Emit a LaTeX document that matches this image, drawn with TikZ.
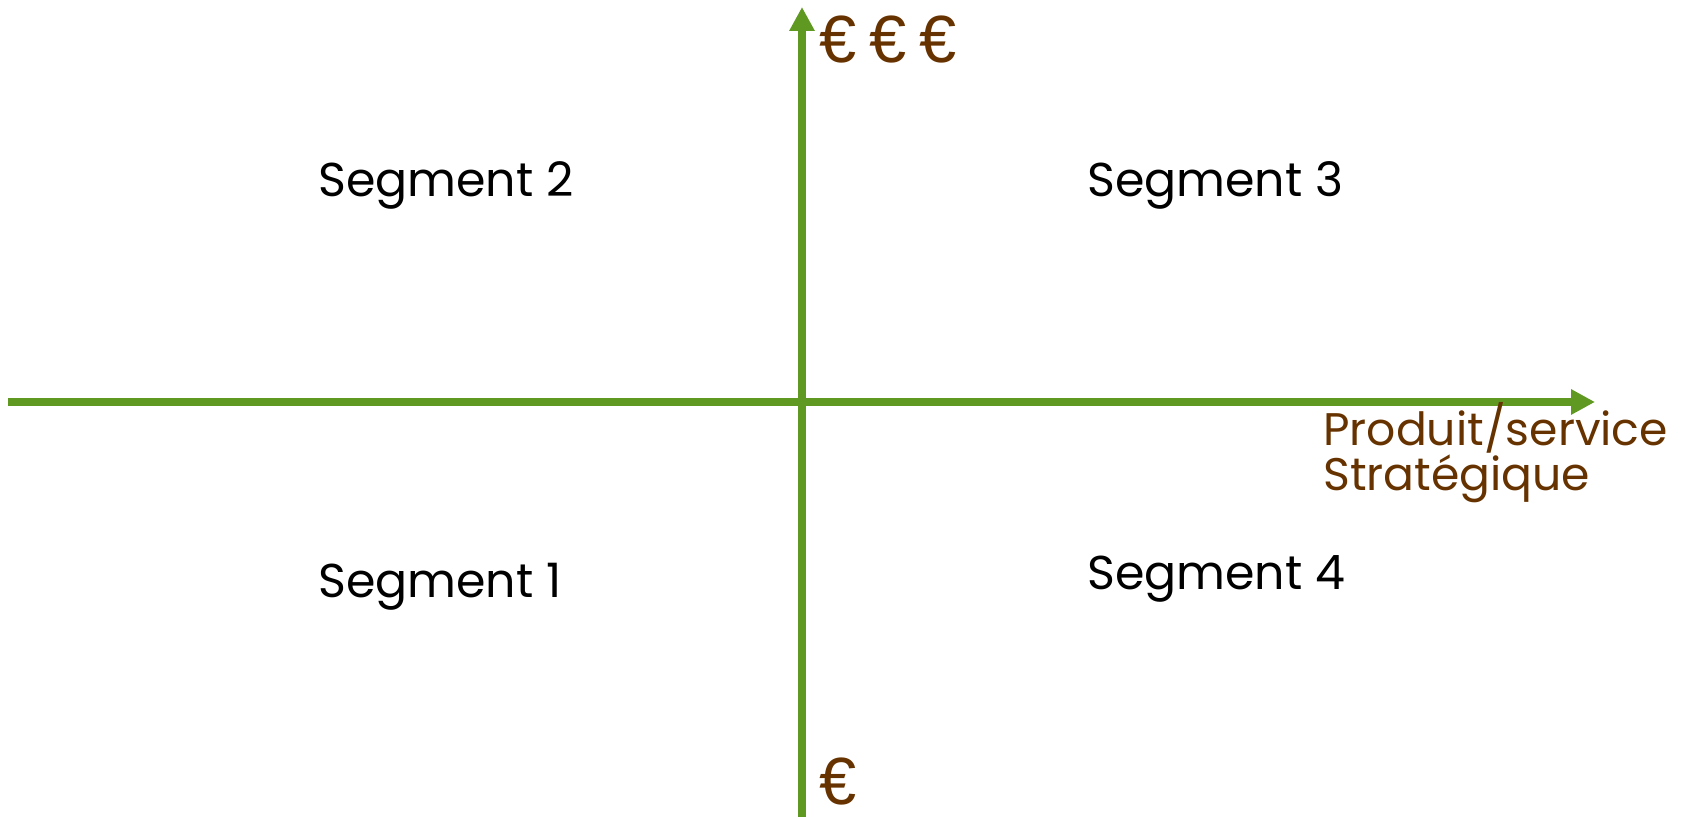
\documentclass[tikz,border=0pt]{standalone}
\usepackage{fontspec}
\setmainfont{Poppins}
\newfontfamily\eurofont{Liberation Sans}[WordSpace=0.7]
\usetikzlibrary{arrows.meta}
\definecolor{axisgreen}{RGB}{96,153,34}
\definecolor{labelbrown}{RGB}{102,51,0}
\tikzset{
  axis/.style={line width=0.16cm, color=axisgreen, -{Triangle[length=0.48cm,width=0.48cm]}},
  segment/.style={anchor=base west, inner sep=0pt, font=\fontsize{27}{32}\selectfont},
  euro/.style={anchor=base west, inner sep=0pt, text=labelbrown, font=\eurofont\fontsize{38}{44}\selectfont},
  axislabel/.style={anchor=north west, inner sep=0pt, text=labelbrown, align=left,
    font=\fontsize{26}{23}\selectfont}
}
\begin{document}
\begin{tikzpicture}
  \useasboundingbox (0,0) rectangle (33.76,16.34);
  % axes
  \coordinate (xstart) at (0.16,8.30);
  \coordinate (xend) at (31.90,8.30);
  \coordinate (ybot) at (16.04,0);
  \coordinate (ytop) at (16.04,16.20);
  \draw[axis] (xstart) -- (xend);
  \draw[axis] (ybot) -- (ytop);
  % quadrants
  \node[segment] (seg2) at (6.36,12.40) {Segment 2};
  \node[segment] (seg3) at (21.74,12.40) {Segment 3};
  \node[segment] (seg1) at (6.36,4.38) {Segment 1};
  \node[segment] (seg4) at (21.74,4.54) {Segment 4};
  % axis labels
  \node[euro] (high) at (16.38,15.08) {€ € €};
  \node[euro] (low) at (16.38,0.24) {€};
  \node[axislabel] (prod) at (26.46,8.30) {Produit/service\\Stratégique};
\end{tikzpicture}
\end{document}
